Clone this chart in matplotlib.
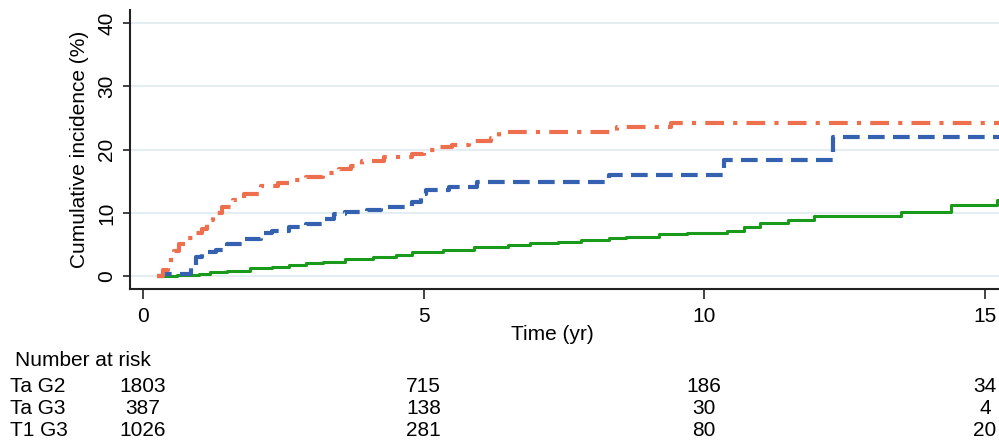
import matplotlib
matplotlib.use("Agg")
from matplotlib import pyplot as plt

plt.rcParams['font.family'] = ['Liberation Sans', 'DejaVu Sans']

# step curves: time (yr) and cumulative incidence (%)
orange_t = [0.25, 0.35, 0.45, 0.55, 0.65, 0.8, 0.95, 1.05, 1.15, 1.25, 1.4, 1.6, 1.8, 2.1, 2.4,
            2.6, 2.9, 3.2, 3.5, 3.7, 3.9, 4.3, 4.8, 5.0, 5.3, 5.5, 5.8, 6.2, 6.35, 8.45, 9.4]
orange_y = [0.0, 1.0, 2.5, 4.0, 5.0, 6.0, 6.8, 7.5, 8.8, 10.0, 11.0, 12.0, 13.0, 14.2, 14.8,
            15.2, 15.6, 16.3, 17.0, 17.4, 18.2, 18.8, 19.3, 19.9, 20.4, 20.8, 21.4, 21.9, 22.8, 23.6, 24.2]

blue_t = [0.25, 0.35, 0.85, 0.95, 1.05, 1.3, 1.5, 1.8, 2.1, 2.3, 2.6, 2.9, 3.2, 3.4, 3.6,
          4.0, 4.25, 4.8, 4.95, 5.05, 5.45, 5.95, 8.3, 10.36, 12.3]
blue_y = [0.0, 0.4, 1.5, 3.0, 3.8, 4.2, 5.0, 5.8, 6.8, 7.2, 7.8, 8.3, 9.0, 9.8, 10.1,
          10.4, 10.9, 11.7, 13.0, 13.6, 14.1, 14.9, 16.0, 18.3, 22.0]

green_t = [0.25, 0.6, 1.0, 1.2, 1.5, 1.9, 2.3, 2.6, 2.9, 3.2, 3.6, 4.1, 4.5, 4.8, 5.35, 5.9,
           6.5, 6.9, 7.4, 7.8, 8.3, 8.6, 9.2, 9.7, 10.4, 10.7, 11.0, 11.5, 11.96, 13.5, 14.4, 15.22]
green_y = [0.0, 0.2, 0.4, 0.6, 0.8, 1.2, 1.5, 1.7, 2.0, 2.3, 2.7, 3.0, 3.4, 3.8, 4.2, 4.6,
           4.9, 5.2, 5.4, 5.7, 6.0, 6.2, 6.6, 6.8, 7.2, 7.8, 8.4, 8.8, 9.5, 10.1, 11.2, 12.0]

x_ticks = [0, 5, 10, 15]
y_ticks = [0, 10, 20, 30, 40]

groups = ["Ta G2", "Ta G3", "T1 G3"]
at_risk = [[1803, 715, 186, 34],
           [387, 138, 30, 4],
           [1026, 281, 80, 20]]

X_MAX = 15.25
FS = 15

fig = plt.figure(figsize=(9.99, 4.43), dpi=100)
ax = fig.add_axes([130 / 999, 1 - 289 / 443, 1 - 130 / 999, (289 - 10) / 443])

for t, y, col, ls, lw in [(green_t, green_y, "#1a9a1a", "-", 2.2),
                          (blue_t, blue_y, "#3462b0", (0, (4, 2)), 3.0),
                          (orange_t, orange_y, "#ee6f4e", (0, (4.5, 2.2, 1, 2.2)), 3.0)]:
    ax.step(t + [X_MAX], y + [y[-1]], where="post", color=col, linestyle=ls, linewidth=lw,
            solid_capstyle="butt", dash_capstyle="butt")

ax.set_xlim(-0.23, X_MAX)
ax.set_ylim(-2.05, 42.1)
ax.set_xticks(x_ticks)
ax.set_yticks(y_ticks)
ax.set_yticklabels([str(v) for v in y_ticks], rotation=90, va="center")
ax.tick_params(axis="x", length=7, width=1.2, labelsize=FS, pad=6, color="#222222")
ax.tick_params(axis="y", length=5, width=1.2, labelsize=FS, pad=5, color="#222222")
ax.grid(axis="y", color="#e4edf2", linewidth=1.5)
ax.set_axisbelow(True)
for s in ["top", "right"]:
    ax.spines[s].set_visible(False)
for s in ["left", "bottom"]:
    ax.spines[s].set_linewidth(1.5)
    ax.spines[s].set_color("#222222")
ax.set_ylabel("Cumulative incidence (%)", fontsize=FS, labelpad=6)

fig.text(552 / 999, 1 - 334 / 443, "Time (yr)", fontsize=FS, ha="center", va="center")

# number at risk table
fig.text(15 / 999, 1 - 361 / 443, "Number at risk", fontsize=FS, ha="left", va="center")
row_y = [386, 408, 430]
for g, counts, py in zip(groups, at_risk, row_y):
    fig.text(10 / 999, 1 - py / 443, g, fontsize=FS, ha="left", va="center")
    for xt, n in zip(x_ticks, counts):
        xf = ax.transData.transform((xt, 0))[0] / fig.bbox.width
        fig.text(xf, 1 - py / 443, str(n), fontsize=FS, ha="center", va="center")

fig.savefig("out.png", dpi=100)
